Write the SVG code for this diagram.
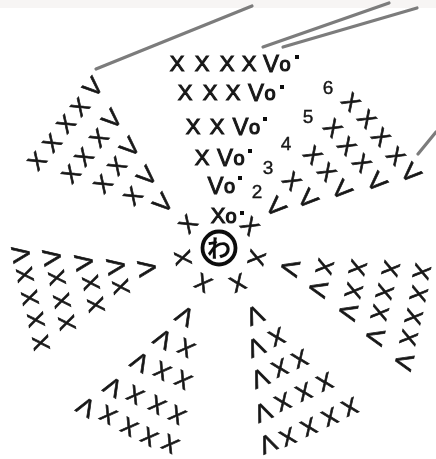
<svg xmlns="http://www.w3.org/2000/svg" width="436" height="459" viewBox="0 0 436 459">
<defs>
<style>
text{font-family:"Liberation Sans",Arial,sans-serif;fill:#161616;text-anchor:middle}
.c{font-size:22px;stroke:#161616;stroke-width:1px}
.v{font-size:24px;stroke:#161616;stroke-width:.9px}
.o{font-size:20px;stroke:#161616;stroke-width:1.2px}
.h{font-size:23px;stroke:#1c1c1c;stroke-width:.7px}
.w{font-size:25px;stroke:#1c1c1c;stroke-width:.7px}
.n{font-size:19px;stroke:#161616;stroke-width:.4px}
.d{fill:#111}
.l{stroke:#7c7c7c;stroke-width:3.2;stroke-linecap:round;fill:none}
</style>
<filter id="b" x="-5%" y="-5%" width="110%" height="110%"><feGaussianBlur stdDeviation="0.5"/></filter>
</defs>
<rect width="436" height="459" fill="#fff"/>
<rect width="436" height="8" fill="#f7f5f4"/>
<g filter="url(#b)">
<g id="connectors">
<line class="l" x1="96" y1="69" x2="252" y2="6"/>
<line class="l" x1="263" y1="47" x2="389" y2="3"/>
<line class="l" x1="283" y1="47" x2="417" y2="8"/>
<line class="l" x1="418" y1="154" x2="436" y2="132"/>
</g>
<g id="top-wedge">
<text class="c" x="177" y="71">X</text><text class="c" x="202" y="71">X</text><text class="c" x="227" y="71">X</text><text class="c" x="249" y="71">X</text><text class="v" x="271" y="72">V</text><text class="o" x="285" y="70.500">o</text><rect class="d" x="295" y="55" width="4" height="4"/>
<text class="c" x="185" y="100">X</text><text class="c" x="210" y="100">X</text><text class="c" x="233" y="100">X</text><text class="v" x="256" y="101">V</text><text class="o" x="270" y="99.500">o</text><rect class="d" x="280" y="85" width="4" height="4"/>
<text class="c" x="193" y="134">X</text><text class="c" x="217" y="134">X</text><text class="v" x="240.500" y="135">V</text><text class="o" x="254.500" y="133.500">o</text><rect class="d" x="263" y="117" width="4" height="4"/>
<text class="c" x="202" y="165">X</text><text class="v" x="225" y="166">V</text><text class="o" x="239" y="164.500">o</text><rect class="d" x="248" y="149" width="4" height="4"/>
<text class="v" x="215.500" y="194">V</text><text class="o" x="229.500" y="192.500">o</text><rect class="d" x="238" y="176" width="4" height="4"/>
<text class="c" x="218" y="223">X</text><text class="o" x="231" y="222.500">o</text><rect class="d" x="240" y="211" width="4" height="4"/>
</g>
<g id="numbers">
<text class="n" x="257" y="198">2</text><text class="n" x="268" y="174">3</text><text class="n" x="286" y="150">4</text><text class="n" x="308" y="123">5</text><text class="n" x="328" y="94">6</text>
</g>
<g id="center">
<circle cx="219" cy="248" r="16.500" fill="none" stroke="#111" stroke-width="3.800"/>
<text x="219" y="257" style="font-family:'Noto Sans CJK JP',sans-serif;font-size:24px;font-weight:700;fill:#111">わ</text>
<text class="h" transform="translate(188 224) rotate(-48)" y="8">X</text>
<text class="h" transform="translate(250 226) rotate(47)" y="8">X</text>
<text class="h" transform="translate(183 258) rotate(-99)" y="8">X</text>
<text class="h" transform="translate(257 258) rotate(104)" y="8">X</text>
<text class="h" transform="translate(203 283) rotate(210)" y="8">X</text>
<text class="h" transform="translate(238 283) rotate(157)" y="8">X</text>
</g>
<g id="upper-left-wedge">
<text class="w" transform="translate(93 87) rotate(-48)" y="8.500">V</text><text class="w" transform="translate(112 119) rotate(-48)" y="8.500">V</text><text class="w" transform="translate(130 147) rotate(-48)" y="8.500">V</text><text class="w" transform="translate(147 176) rotate(-48)" y="8.500">V</text><text class="w" transform="translate(163 203) rotate(-48)" y="8.500">V</text>
<text class="h" transform="translate(80 107) rotate(-48)" y="8">X</text><text class="h" transform="translate(66 124) rotate(-48)" y="8">X</text><text class="h" transform="translate(52 143) rotate(-48)" y="8">X</text><text class="h" transform="translate(37 161) rotate(-48)" y="8">X</text>
<text class="h" transform="translate(99 138) rotate(-48)" y="8">X</text><text class="h" transform="translate(84 157) rotate(-48)" y="8">X</text><text class="h" transform="translate(71 174) rotate(-48)" y="8">X</text>
<text class="h" transform="translate(117 166) rotate(-48)" y="8">X</text><text class="h" transform="translate(103 184) rotate(-48)" y="8">X</text>
<text class="h" transform="translate(133 196) rotate(-48)" y="8">X</text>
</g>
<g id="upper-right-wedge">
<text class="w" transform="translate(411 173) rotate(47)" y="8.500">V</text><text class="w" transform="translate(377 182) rotate(47)" y="8.500">V</text><text class="w" transform="translate(342 190) rotate(47)" y="8.500">V</text><text class="w" transform="translate(308 199) rotate(47)" y="8.500">V</text><text class="w" transform="translate(276 207) rotate(47)" y="8.500">V</text>
<text class="h" transform="translate(351 102) rotate(47)" y="8">X</text><text class="h" transform="translate(367 119) rotate(47)" y="8">X</text><text class="h" transform="translate(381 137) rotate(47)" y="8">X</text><text class="h" transform="translate(396 156) rotate(47)" y="8">X</text>
<text class="h" transform="translate(333 128) rotate(47)" y="8">X</text><text class="h" transform="translate(347 146) rotate(47)" y="8">X</text><text class="h" transform="translate(362 163) rotate(47)" y="8">X</text>
<text class="h" transform="translate(313 155) rotate(47)" y="8">X</text><text class="h" transform="translate(327 172) rotate(47)" y="8">X</text>
<text class="h" transform="translate(292 181) rotate(47)" y="8">X</text>
</g>
<g id="left-wedge">
<text class="w" transform="translate(21 254) rotate(-99)" y="8.500">V</text><text class="w" transform="translate(52 257) rotate(-99)" y="8.500">V</text><text class="w" transform="translate(84 262) rotate(-99)" y="8.500">V</text><text class="w" transform="translate(116 266) rotate(-99)" y="8.500">V</text><text class="w" transform="translate(147 268) rotate(-99)" y="8.500">V</text>
<text class="h" transform="translate(25 275) rotate(-99)" y="8">X</text><text class="h" transform="translate(57 278) rotate(-99)" y="8">X</text><text class="h" transform="translate(91 283) rotate(-99)" y="8">X</text><text class="h" transform="translate(121 287) rotate(-99)" y="8">X</text>
<text class="h" transform="translate(30 298) rotate(-99)" y="8">X</text><text class="h" transform="translate(62 301) rotate(-99)" y="8">X</text><text class="h" transform="translate(96 305) rotate(-99)" y="8">X</text>
<text class="h" transform="translate(36 320) rotate(-99)" y="8">X</text><text class="h" transform="translate(67 323) rotate(-99)" y="8">X</text>
<text class="h" transform="translate(41 343) rotate(-99)" y="8">X</text>
</g>
<g id="lower-left-wedge">
<text class="w" transform="translate(185 316) rotate(210)" y="8.500">V</text><text class="w" transform="translate(163 339) rotate(210)" y="8.500">V</text><text class="w" transform="translate(140 362) rotate(210)" y="8.500">V</text><text class="w" transform="translate(113 387) rotate(210)" y="8.500">V</text><text class="w" transform="translate(86 407) rotate(210)" y="8.500">V</text>
<text class="h" transform="translate(186 348) rotate(210)" y="8">X</text>
<text class="h" transform="translate(162 371) rotate(210)" y="8">X</text><text class="h" transform="translate(183 380) rotate(210)" y="8">X</text>
<text class="h" transform="translate(135 395) rotate(210)" y="8">X</text><text class="h" transform="translate(157 405) rotate(210)" y="8">X</text><text class="h" transform="translate(177 415) rotate(210)" y="8">X</text>
<text class="h" transform="translate(108 415) rotate(210)" y="8">X</text><text class="h" transform="translate(129 427) rotate(210)" y="8">X</text><text class="h" transform="translate(149 437) rotate(210)" y="8">X</text><text class="h" transform="translate(170 444) rotate(210)" y="8">X</text>
</g>
<g id="lower-right-wedge">
<text class="w" transform="translate(255 315) rotate(157)" y="8.500">V</text><text class="w" transform="translate(256 347) rotate(157)" y="8.500">V</text><text class="w" transform="translate(260 378) rotate(157)" y="8.500">V</text><text class="w" transform="translate(263 412) rotate(157)" y="8.500">V</text><text class="w" transform="translate(268 443.500) rotate(157)" y="8.500">V</text>
<text class="h" transform="translate(277 337) rotate(157)" y="8">X</text>
<text class="h" transform="translate(280 368) rotate(157)" y="8">X</text><text class="h" transform="translate(300 359) rotate(157)" y="8">X</text>
<text class="h" transform="translate(283 402) rotate(157)" y="8">X</text><text class="h" transform="translate(304 392) rotate(157)" y="8">X</text><text class="h" transform="translate(325 382) rotate(157)" y="8">X</text>
<text class="h" transform="translate(288 437) rotate(157)" y="8">X</text><text class="h" transform="translate(309 427) rotate(157)" y="8">X</text><text class="h" transform="translate(330 417) rotate(157)" y="8">X</text><text class="h" transform="translate(350 407) rotate(157)" y="8">X</text>
</g>
<g id="right-wedge">
<text class="w" transform="translate(290 268) rotate(104)" y="8.500">V</text><text class="w" transform="translate(318 289) rotate(104)" y="8.500">V</text><text class="w" transform="translate(348 312) rotate(104)" y="8.500">V</text><text class="w" transform="translate(375 337) rotate(104)" y="8.500">V</text><text class="w" transform="translate(404 362) rotate(104)" y="8.500">V</text>
<text class="h" transform="translate(325 267) rotate(104)" y="8">X</text><text class="h" transform="translate(358 268) rotate(104)" y="8">X</text><text class="h" transform="translate(391 269) rotate(104)" y="8">X</text><text class="h" transform="translate(422 272) rotate(104)" y="8">X</text>
<text class="h" transform="translate(354 291) rotate(104)" y="8">X</text><text class="h" transform="translate(385 292) rotate(104)" y="8">X</text><text class="h" transform="translate(419 294) rotate(104)" y="8">X</text>
<text class="h" transform="translate(380 313) rotate(104)" y="8">X</text><text class="h" transform="translate(414 317) rotate(104)" y="8">X</text>
<text class="h" transform="translate(409 338) rotate(104)" y="8">X</text>
</g>
</g>
</svg>
